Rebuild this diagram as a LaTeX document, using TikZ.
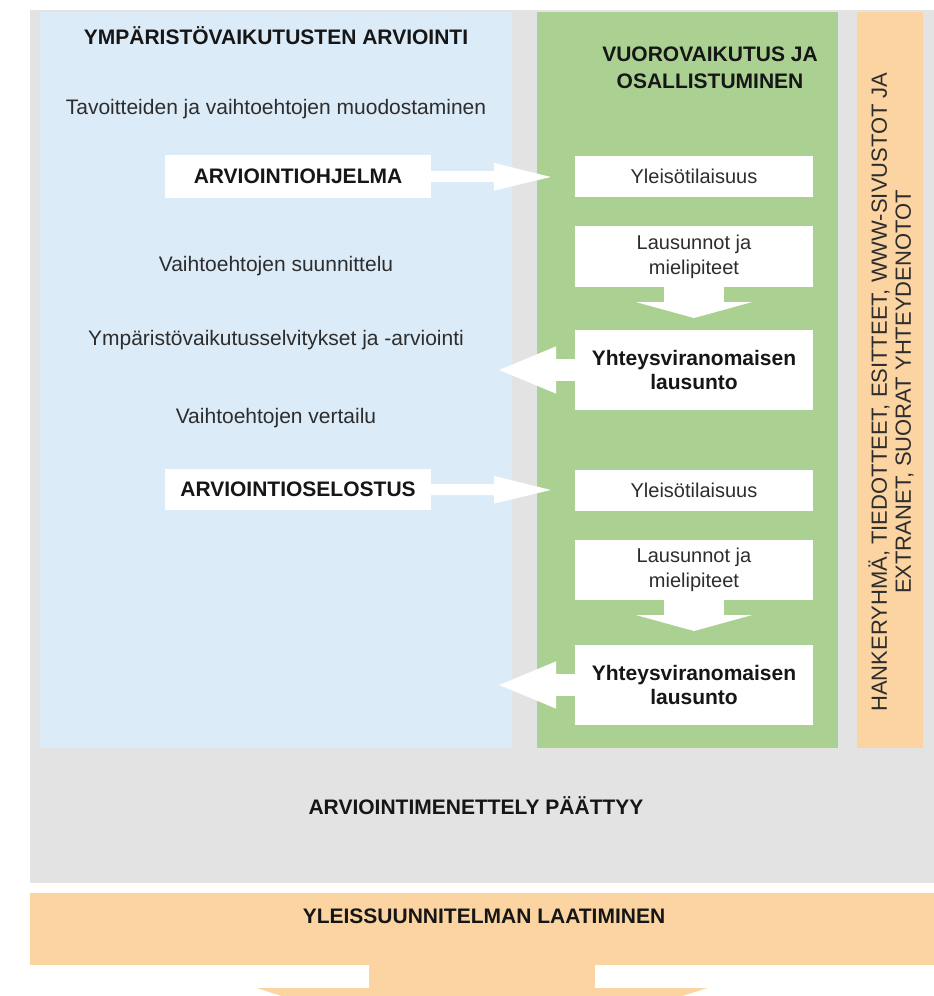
\documentclass[tikz,border=0pt]{standalone}
\usepackage{fontspec}
\setmainfont{Liberation Sans}
\usetikzlibrary{arrows.meta,calc}
\definecolor{bggray}{RGB}{227,227,227}
\definecolor{pblue}{RGB}{220,235,248}
\definecolor{pgreen}{RGB}{170,209,146}
\definecolor{porange}{RGB}{251,212,161}
\definecolor{txtb}{RGB}{22,22,22}
\definecolor{txtr}{RGB}{45,45,45}
\begin{document}
\begin{tikzpicture}[x=1pt,y=-1pt,
  hdr/.style={font=\fontsize{21}{27}\selectfont\bfseries, text=txtb, inner sep=0pt, align=center},
  plain/.style={font=\fontsize{21}{24}\selectfont, text=txtr, inner sep=0pt, align=center},
  sidetxt/.style={font=\fontsize{22}{24}\selectfont, text=txtr, inner sep=0pt, align=center},
  wbox/.style={fill=white, draw=none, inner sep=0pt, align=center},
  boldtxt/.style={font=\fontsize{21}{24}\selectfont\bfseries, text=txtb},
  regtxt/.style={font=\fontsize{20}{25}\selectfont, text=txtr},
  rarrow/.style={draw=white, line width=11pt, -{Triangle[length=63pt,width=24pt]}},
  larrow/.style={draw=white, line width=22pt, -{Triangle[length=60pt,width=42pt]}},
  darrow/.style={draw=white, line width=60pt, -{Triangle[length=16pt,width=116pt]}},
  oarrow/.style={draw=porange, line width=226pt, -{Triangle[length=72pt,width=449pt]}}
]
\useasboundingbox (0,0) rectangle (934,996);
\clip (0,0) rectangle (934,996);
\fill[white] (0,0) rectangle (934,996);
% background panels
\fill[bggray] (30,10) rectangle (934,883);
\fill[pblue] (40,12) rectangle (512,748);
\fill[pgreen] (537,12) rectangle (838,748);
\fill[porange] (857,12) rectangle (923,748);
\fill[porange] (30,893) rectangle (934,965);

% left column texts
\node[hdr] (title) at (276,36) {YMPÄRISTÖVAIKUTUSTEN ARVIOINTI};
\node[plain] (t1) at (276,109) {Tavoitteiden ja vaihtoehtojen muodostaminen};
\node[plain] (t2) at (276,266) {Vaihtoehtojen suunnittelu};
\node[plain] (t3) at (276,340) {Ympäristövaikutusselvitykset ja -arviointi};
\node[plain] (t4) at (276,418) {Vaihtoehtojen vertailu};

% left boxes
\node[wbox, boldtxt, minimum width=266pt, minimum height=43pt] (prog) at (298,176.5) {ARVIOINTIOHJELMA};
\node[wbox, boldtxt, minimum width=266pt, minimum height=41pt] (selo) at (298,489.5) {ARVIOINTIOSELOSTUS};

% green column
\node[hdr] (ghead) at (710,68) {VUOROVAIKUTUS JA\\OSALLISTUMINEN};
\node[wbox, regtxt, minimum width=238pt, minimum height=41pt] (yl1) at (694,176.5) {Yleisötilaisuus};
\node[wbox, regtxt, minimum width=238pt, minimum height=61pt] (la1) at (694,256.5) {Lausunnot ja\\mielipiteet};
\node[wbox, boldtxt, minimum width=238pt, minimum height=80pt] (yh1) at (694,370) {Yhteysviranomaisen\\lausunto};
\node[wbox, regtxt, minimum width=238pt, minimum height=41pt] (yl2) at (694,490.5) {Yleisötilaisuus};
\node[wbox, regtxt, minimum width=238pt, minimum height=60pt] (la2) at (694,570) {Lausunnot ja\\mielipiteet};
\node[wbox, boldtxt, minimum width=238pt, minimum height=80pt] (yh2) at (694,685) {Yhteysviranomaisen\\lausunto};

% arrow end points
\coordinate (tipR1) at (557,177);
\coordinate (tipR2) at (557,490);
\coordinate (tipL1) at (496,370);
\coordinate (tipL2) at (496,685);
\coordinate (tipD1) at (694,318);
\coordinate (tipD2) at (694,631);

\draw[rarrow] (prog.east) -- (tipR1);
\draw[rarrow] (selo.east) -- (tipR2);
\draw[larrow] (yh1.west) -- (tipL1);
\draw[larrow] (yh2.west) -- (tipL2);
\draw[darrow] (la1.south) -- (tipD1);
\draw[darrow] (la2.south) -- (tipD2);

% right vertical strip
\node[sidetxt, rotate=90] (side) at (891,392) {HANKERYHMÄ, TIEDOTTEET, ESITTEET, WWW-SIVUSTOT JA\\EXTRANET, SUORAT YHTEYDENOTOT};

% bottom
\node[hdr] (end) at (476,806) {ARVIOINTIMENETTELY PÄÄTTYY};
\node[hdr] (yleis) at (484,916) {YLEISSUUNNITELMAN LAATIMINEN};
\coordinate (band) at (482,964);
\coordinate (tipO) at (482,1060);
\draw[oarrow] (band) -- (tipO);
\end{tikzpicture}
\end{document}
